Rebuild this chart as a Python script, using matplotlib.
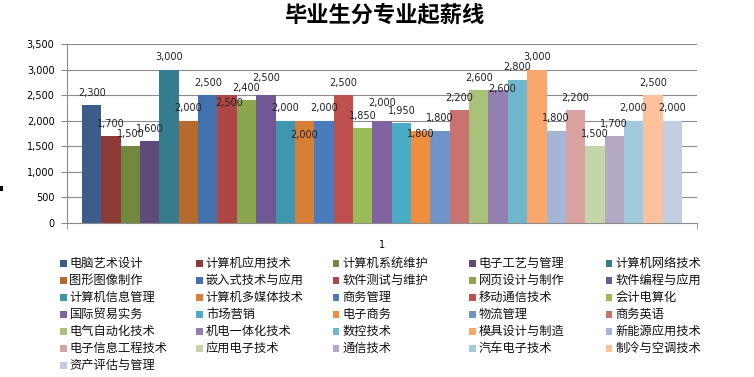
import matplotlib.pyplot as plt
from matplotlib.patches import Rectangle
from matplotlib.ticker import FuncFormatter, MultipleLocator

plt.rcParams["font.family"] = ["DejaVu Sans", "Noto Sans CJK SC"]

majors = [
    "电脑艺术设计", "计算机应用技术", "计算机系统维护", "电子工艺与管理", "计算机网络技术",
    "图形图像制作", "嵌入式技术与应用", "软件测试与维护", "网页设计与制作", "软件编程与应用",
    "计算机信息管理", "计算机多媒体技术", "商务管理", "移动通信技术", "会计电算化",
    "国际贸易实务", "市场营销", "电子商务", "物流管理", "商务英语",
    "电气自动化技术", "机电一体化技术", "数控技术", "模具设计与制造", "新能源应用技术",
    "电子信息工程技术", "应用电子技术", "通信技术", "汽车电子技术", "制冷与空调技术",
    "资产评估与管理",
]
salaries = [
    2300, 1700, 1500, 1600, 3000,
    2000, 2500, 2500, 2400, 2500,
    2000, 2000, 2000, 2500, 1850,
    2000, 1950, 1800, 1800, 2200,
    2600, 2600, 2800, 3000, 1800,
    2200, 1500, 1700, 2000, 2500,
    2000,
]
category = "1"

colors = [
    "#3a5d8b", "#8e3a37", "#71893e", "#5e4b7c", "#357c8e",
    "#b66a2e", "#4272ae", "#ae4643", "#8ba64c", "#6f5894",
    "#3e97ae", "#d67f36", "#4a7bbe", "#c0504d", "#9bbb59",
    "#8064a2", "#4bacc6", "#ef8e3f", "#6f93c8", "#c97371",
    "#a9c27a", "#937fb0", "#6fb7cf", "#f9a76c", "#a4b5d6",
    "#d9a2a1", "#c4d5a7", "#b4a8c6", "#a0cbdc", "#fbc09c",
    "#c3cde2",
]

# label placement tweaks (pixels) to mimic the original chart
nudge = {7: (2, -8), 9: (0, 17.5), 11: (0, -14), 15: (0, 18), 17: (0, -3.5), 21: (4, 1.5)}

fig = plt.figure(figsize=(7.54, 3.77), dpi=100)
ax = fig.add_axes([67 / 754, 1 - 223 / 377, 630 / 754, 179 / 377])

n = len(salaries)
xs = list(range(n))
ax.bar(xs, salaries, width=1.0, color=colors, linewidth=0, zorder=3)

for i, v in enumerate(salaries):
    dx, dy = nudge.get(i, (0, 12.5))
    ax.annotate(f"{v:,}", (i, v), xytext=(dx, dy), textcoords="offset pixels",
                ha="center", va="center", fontsize=7, color="#222222", zorder=5)

pad = 15 / (600 / n)
ax.set_xlim(-0.5 - pad, n - 0.5 + pad)
ax.set_ylim(0, 3500)
ax.yaxis.set_major_locator(MultipleLocator(500))
ax.yaxis.set_major_formatter(FuncFormatter(lambda v, p: f"{int(v):,}"))
ax.grid(axis="y", color="#8c8c8c", linewidth=0.8, zorder=0)

ax.set_xticks([(n - 1) / 2])
ax.set_xticklabels([category])
ax.tick_params(axis="x", length=0, pad=12, labelsize=7)
ax.set_xticks([-0.5 - pad, n - 0.5 + pad], minor=True)
ax.tick_params(axis="x", which="minor", length=4, color="#8c8c8c")
ax.tick_params(axis="y", length=4, color="#8c8c8c", labelsize=7, pad=5)

for s in ["top", "right"]:
    ax.spines[s].set_visible(False)
for s in ["left", "bottom"]:
    ax.spines[s].set_color("#8c8c8c")
    ax.spines[s].set_linewidth(0.8)

fig.text(384 / 754, 1 - 15 / 377, "毕业生分专业起薪线", ha="center", va="center",
         fontsize=16, fontweight="bold", family=["Noto Sans CJK SC", "DejaVu Sans"])

# small stray mark at the left edge of the original image
fig.patches.append(Rectangle((0, 1 - 191 / 377), 3 / 754, 5 / 377,
                             transform=fig.transFigure, facecolor="black", edgecolor="none"))

# legend laid out row by row, 5 columns, like the spreadsheet legend
for i, (name, c) in enumerate(zip(majors, colors)):
    row, col = divmod(i, 5)
    x0 = 60 + col * 136.4
    yc = 263.3 + row * 17.05
    fig.patches.append(Rectangle((x0 / 754, 1 - (yc + 3.2) / 377), 6.5 / 754, 6.5 / 377,
                                 transform=fig.transFigure, facecolor=c, edgecolor="none"))
    fig.text((x0 + 9.5) / 754, 1 - yc / 377, name, ha="left", va="center", fontsize=8.8,
             family=["Noto Sans CJK SC", "DejaVu Sans"], color="#111111")

fig.savefig("out.png", dpi=100)
